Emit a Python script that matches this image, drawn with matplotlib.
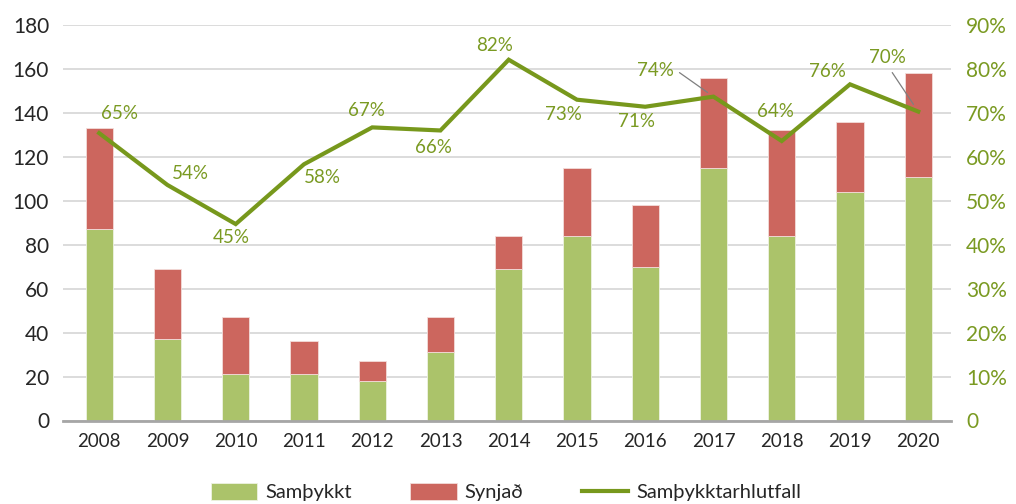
import matplotlib
matplotlib.use("Agg")
import matplotlib.pyplot as plt
import numpy as np

years = ["2008", "2009", "2010", "2011", "2012", "2013", "2014",
         "2015", "2016", "2017", "2018", "2019", "2020"]
samthykkt = [87, 37, 21, 21, 18, 31, 69, 84, 70, 115, 84, 104, 111]
synjad = [46, 32, 26, 15, 9, 16, 15, 31, 28, 41, 48, 32, 47]
hlutfall = [0.654, 0.536, 0.447, 0.583, 0.667, 0.660, 0.821,
            0.730, 0.714, 0.737, 0.636, 0.765, 0.703]
labels_pct = ["65%", "54%", "45%", "58%", "67%", "66%", "82%",
              "73%", "71%", "74%", "64%", "76%", "70%"]
left_ticks = [0, 20, 40, 60, 80, 100, 120, 140, 160, 180]
right_ticks = [0, 0.1, 0.2, 0.3, 0.4, 0.5, 0.6, 0.7, 0.8, 0.9]
right_labels = ["0", "10%", "20%", "30%", "40%", "50%", "60%", "70%", "80%", "90%"]
legend_labels = ["Samþykkt", "Synjað", "Samþykktarhlutfall"]

plt.rcParams['font.family'] = ['Lato', 'DejaVu Sans']

GREEN_BAR = "#abc36a"
RED_BAR = "#cc665e"
LINE = "#77981c"
LABEL = "#7a9a22"
DARK = "#262626"

fig = plt.figure(figsize=(10.16, 5.04), dpi=100)
ax = fig.add_axes([63/1016, 1-420.5/504, (951-63)/1016, (420.5-25)/504])
x = np.arange(len(years))
w = 0.4
ax.bar(x, samthykkt, w, color=GREEN_BAR, edgecolor="#eef2e2", linewidth=0.6, zorder=2,
       label=legend_labels[0])
ax.bar(x, synjad, w, bottom=samthykkt, color=RED_BAR, edgecolor="#f3dcda", linewidth=0.6,
       zorder=2, label=legend_labels[1])
ax.set_xlim(-0.53, 12.48)
ax.set_ylim(0, 180)
ax.set_yticks(left_ticks)
ax.set_yticklabels([str(t) for t in left_ticks])
ax.set_xticks(x)
ax.set_xticklabels(years)
ax.grid(axis='y', color="#d9d9d9", linewidth=1.3, zorder=0)
ax.set_axisbelow(True)
for s in ["top", "left", "right"]:
    ax.spines[s].set_visible(False)
ax.spines["bottom"].set_color("#a6a6a6")
ax.spines["bottom"].set_linewidth(2)
ax.spines["bottom"].set_zorder(3)
ax.tick_params(axis='y', length=0, pad=10, labelsize=15, labelcolor=DARK)
ax.tick_params(axis='x', length=0, pad=9, labelsize=13.5, labelcolor=DARK)

ax2 = ax.twinx()
ax2.set_ylim(0, 0.9)
ax2.set_yticks(right_ticks)
ax2.set_yticklabels(right_labels)
ax2.tick_params(axis='y', length=0, pad=11, labelsize=15, labelcolor=LABEL)
for s in ["top", "left", "right", "bottom"]:
    ax2.spines[s].set_visible(False)
ax2.plot(x, hlutfall, color=LINE, linewidth=3, solid_joinstyle='miter', zorder=4,
         label=legend_labels[2])

offsets = [(20, 20), (23, 11), (-4, -13), (18, -13), (-6, 17), (-7, -17), (-14, 14),
           (-14, -15), (-9, -15), (-58, 26), (-6, 30), (-23, 13), (-31, 54)]
for xi, yi, lab, (dx, dy) in zip(x, hlutfall, labels_pct, offsets):
    ax2.annotate(lab, xy=(xi, yi), xytext=(dx, dy), textcoords='offset pixels',
                 ha='center', va='center', fontsize=13.5, color=LABEL, zorder=5)

# leader lines
for idx, (sx, sy, shrink) in {9: (-34, 24, 5.2), 12: (-26, 39, 6.2)}.items():
    ax2.annotate("", xy=(x[idx], hlutfall[idx]), xytext=(sx, sy), textcoords='offset pixels',
                 arrowprops=dict(arrowstyle='-', color="#7f7f7f", lw=0.9,
                                 shrinkA=0, shrinkB=shrink), zorder=5)

h1, l1 = ax.get_legend_handles_labels()
h2, l2 = ax2.get_legend_handles_labels()
fig.legend(h1 + h2, l1 + l2, loc='upper center', bbox_to_anchor=(506/1016, 1-473/504),
           ncol=3, frameon=False, fontsize=14.5, handlelength=2.3, handleheight=0.9,
           handletextpad=0.4, columnspacing=2.9, borderpad=0, labelcolor=DARK)

fig.savefig("out.png", dpi=100)
